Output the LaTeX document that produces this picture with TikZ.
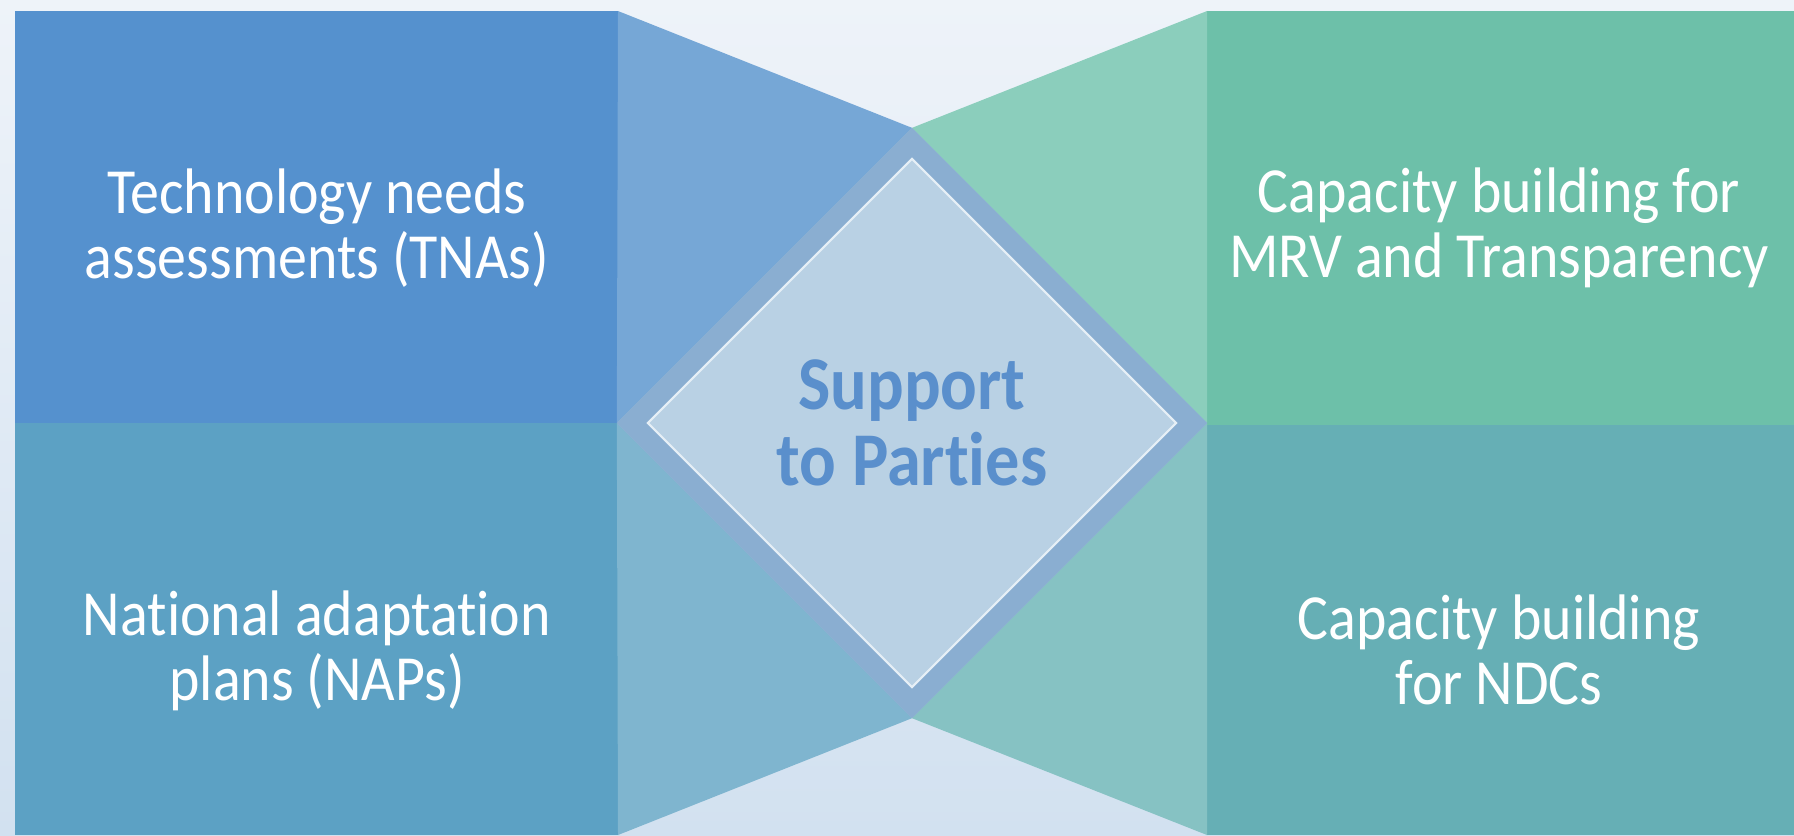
\documentclass[tikz,border=0pt]{standalone}
\usepackage{fontspec}
\setmainfont{Carlito}[FakeStretch=0.9, Ligatures=NoCommon]
\usetikzlibrary{shapes.geometric,positioning}

\definecolor{bgtop}{HTML}{EEF3F9}
\definecolor{bgbottom}{HTML}{D2E1F0}
\definecolor{tnablue}{HTML}{5591CE}
\definecolor{napblue}{HTML}{5CA1C4}
\definecolor{mrvgreen}{HTML}{6DC0A9}
\definecolor{ndcteal}{HTML}{66AFB5}
\definecolor{tnawedge}{HTML}{76A7D6}
\definecolor{napwedge}{HTML}{7FB5CF}
\definecolor{mrvwedge}{HTML}{8BCEBC}
\definecolor{ndcwedge}{HTML}{86C2C3}
\definecolor{ringblue}{HTML}{8AAED1}
\definecolor{coreblue}{HTML}{B9D1E4}
\definecolor{titleblue}{HTML}{5A8FCC}

\tikzset{
  panel text/.style={text=white, align=center, inner sep=0pt,
    font=\fontsize{18.3}{18.6}\selectfont},
  ring/.style={diamond, aspect=1, fill=ringblue, inner sep=0pt, outer sep=0pt,
    minimum width=5.9cm, minimum height=5.9cm},
  core/.style={diamond, aspect=1, fill=coreblue, draw=white!65!coreblue,
    line width=0.6pt, inner sep=0pt, outer sep=0pt,
    minimum width=5.28cm, minimum height=5.28cm, text=titleblue, align=center,
    font=\fontsize{21.6}{21.6}\selectfont\bfseries}
}

\begin{document}
\begin{tikzpicture}[x=0.01cm,y=-0.01cm]
   \useasboundingbox (0,0) rectangle (1794,835);
   \shade[top color=bgtop, bottom color=bgbottom] (0,0) rectangle (1794,835);

   % four panels
   \fill[tnablue]  (15,11)   rectangle (618,423);
   \fill[napblue]  (15,423)  rectangle (618,835);
   \fill[mrvgreen] (1207,11) rectangle (1794,425);
   \fill[ndcteal]  (1207,425) rectangle (1794,835);

   \node[ring] (ring) at (912,423) {};

   % wedges between panels and diamond
   \fill[tnawedge] (618,11) -- (ring.north) -- (ring.west) -- cycle;
   \fill[napwedge] (618,835) -- (ring.south) -- (ring.west) -- cycle;
   \fill[mrvwedge] (1207,11) -- (ring.north) -- (ring.east) -- cycle;
   \fill[ndcwedge] (1207,835) -- (ring.south) -- (ring.east) -- cycle;

   \node[ring] at (ring.center) {};
   \node[core] (core) at (ring.center) {Support\\to Parties};

   \node[panel text] (tna) at (317,228) {Technology needs\\assessments (TNAs)};
   \node[panel text] (nap) at (317,651) {National adaptation\\plans (NAPs)};
   \node[panel text] (mrv) at (1499,228) {Capacity building for\\MRV and Transparency};
   \node[panel text] (ndc) at (1499,650) {Capacity building\\for NDCs};
\end{tikzpicture}
\end{document}
